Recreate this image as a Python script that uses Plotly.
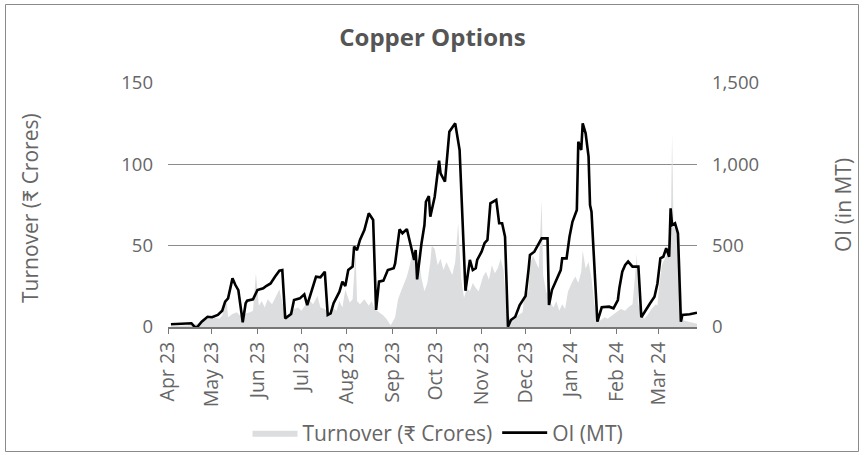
import plotly.graph_objects as go

# ---------------- data ----------------
oi_dates = [
    "2023-04-03", "2023-04-17", "2023-04-19", "2023-04-21", "2023-04-24", "2023-04-28",
    "2023-05-01", "2023-05-05", "2023-05-08", "2023-05-10", "2023-05-12", "2023-05-15",
    "2023-05-17", "2023-05-19", "2023-05-22", "2023-05-24", "2023-05-25", "2023-05-29",
    "2023-06-01", "2023-06-05", "2023-06-07", "2023-06-10", "2023-06-13", "2023-06-16",
    "2023-06-18", "2023-06-20", "2023-06-24", "2023-06-26", "2023-06-30", "2023-07-03",
    "2023-07-05", "2023-07-09", "2023-07-11", "2023-07-14", "2023-07-17", "2023-07-19",
    "2023-07-21", "2023-07-23", "2023-07-27", "2023-07-29", "2023-07-31", "2023-08-02",
    "2023-08-05", "2023-08-06", "2023-08-08", "2023-08-10", "2023-08-13", "2023-08-16",
    "2023-08-19", "2023-08-21", "2023-08-23", "2023-08-26", "2023-08-29", "2023-09-02",
    "2023-09-03", "2023-09-06", "2023-09-08", "2023-09-11", "2023-09-14", "2023-09-16",
    "2023-09-17", "2023-09-18", "2023-09-21", "2023-09-23", "2023-09-24", "2023-09-26",
    "2023-09-27", "2023-09-30", "2023-10-03", "2023-10-04", "2023-10-07", "2023-10-10",
    "2023-10-14", "2023-10-17", "2023-10-21", "2023-10-24", "2023-10-26", "2023-10-28",
    "2023-10-29", "2023-11-01", "2023-11-03", "2023-11-05", "2023-11-07", "2023-11-11",
    "2023-11-13", "2023-11-15", "2023-11-17", "2023-11-19", "2023-11-21", "2023-11-24",
    "2023-11-27", "2023-11-29", "2023-12-01", "2023-12-03", "2023-12-04", "2023-12-07",
    "2023-12-10", "2023-12-12", "2023-12-16", "2023-12-17", "2023-12-19", "2023-12-22",
    "2023-12-25", "2023-12-26", "2023-12-29", "2023-12-31", "2024-01-02", "2024-01-05",
    "2024-01-06", "2024-01-08", "2024-01-09", "2024-01-11", "2024-01-13", "2024-01-14",
    "2024-01-15", "2024-01-19", "2024-01-22", "2024-01-27", "2024-01-30", "2024-02-02",
    "2024-02-03", "2024-02-05", "2024-02-07", "2024-02-09", "2024-02-12", "2024-02-14",
    "2024-02-16", "2024-02-18", "2024-02-21", "2024-02-24", "2024-02-27", "2024-02-29",
    "2024-03-02", "2024-03-04", "2024-03-06", "2024-03-08", "2024-03-09", "2024-03-10",
    "2024-03-12", "2024-03-14", "2024-03-16", "2024-03-17", "2024-03-22", "2024-03-27",
]
oi_values = [
    17, 23, 2, 0, 33, 63,
    60, 74, 100, 156, 176, 299,
    258, 227, 29, 146, 162, 170,
    227, 238, 252, 268, 309, 346,
    350, 53, 80, 166, 176, 201,
    135, 258, 309, 305, 340, 74,
    84, 146, 217, 279, 252, 350,
    371, 494, 473, 535, 596, 699,
    658, 105, 279, 285, 350, 361,
    391, 600, 576, 602, 494, 412,
    473, 293, 515, 627, 770, 805,
    678, 801, 1022, 945, 893, 1201,
    1252, 1088, 223, 412, 350, 361,
    412, 463, 515, 535, 760, 781,
    638, 638, 555, 2, 43, 63,
    135, 166, 191, 350, 443, 463,
    515, 545, 545, 135, 227, 289,
    350, 422, 422, 555, 647, 719,
    1139, 1088, 1252, 1191, 1047, 750,
    709, 33, 121, 125, 115, 166,
    238, 340, 381, 402, 371, 371,
    371, 60, 105, 146, 186, 268,
    422, 432, 484, 432, 730, 627,
    638, 576, 33, 74, 78, 88,
]

turnover_dates = [
    "2023-04-03", "2023-04-16", "2023-04-21", "2023-04-25", "2023-04-28",
    "2023-05-02", "2023-05-06", "2023-05-08", "2023-05-11", "2023-05-12", "2023-05-15",
    "2023-05-18", "2023-05-20", "2023-05-23", "2023-05-27", "2023-05-29", "2023-05-31",
    "2023-06-02", "2023-06-04", "2023-06-06", "2023-06-08", "2023-06-11", "2023-06-14",
    "2023-06-16", "2023-06-18", "2023-06-21", "2023-06-23", "2023-06-26", "2023-06-29",
    "2023-07-01", "2023-07-04", "2023-07-07", "2023-07-09", "2023-07-12", "2023-07-14",
    "2023-07-17", "2023-07-20", "2023-07-22", "2023-07-25", "2023-07-27", "2023-07-29",
    "2023-07-31", "2023-08-03", "2023-08-05", "2023-08-07", "2023-08-08", "2023-08-10",
    "2023-08-13", "2023-08-16", "2023-08-18", "2023-08-20", "2023-08-23", "2023-08-26",
    "2023-08-28", "2023-08-31", "2023-09-03", "2023-09-05", "2023-09-07", "2023-09-09",
    "2023-09-11", "2023-09-13", "2023-09-15", "2023-09-17", "2023-09-19", "2023-09-21",
    "2023-09-23", "2023-09-25", "2023-09-27", "2023-09-28", "2023-09-30", "2023-10-02",
    "2023-10-04", "2023-10-06", "2023-10-08", "2023-10-10", "2023-10-12", "2023-10-14",
    "2023-10-16", "2023-10-18", "2023-10-20", "2023-10-22", "2023-10-24", "2023-10-26",
    "2023-10-28", "2023-10-30", "2023-11-02", "2023-11-04", "2023-11-06", "2023-11-08",
    "2023-11-10", "2023-11-12", "2023-11-14", "2023-11-16", "2023-11-18", "2023-11-20",
    "2023-11-22", "2023-11-24", "2023-11-26", "2023-11-29", "2023-11-30", "2023-12-03",
    "2023-12-04", "2023-12-06", "2023-12-08", "2023-12-10", "2023-12-12", "2023-12-13",
    "2023-12-15", "2023-12-18", "2023-12-20", "2023-12-22", "2023-12-24", "2023-12-26",
    "2023-12-28", "2023-12-30", "2024-01-02", "2024-01-04", "2024-01-06", "2024-01-08",
    "2024-01-09", "2024-01-11", "2024-01-13", "2024-01-15", "2024-01-17", "2024-01-19",
    "2024-01-21", "2024-01-24", "2024-01-26", "2024-01-29", "2024-02-01", "2024-02-04",
    "2024-02-07", "2024-02-09", "2024-02-12", "2024-02-15", "2024-02-16", "2024-02-18",
    "2024-02-20", "2024-02-22", "2024-02-25", "2024-02-28", "2024-02-29", "2024-03-01",
    "2024-03-03", "2024-03-05", "2024-03-07", "2024-03-09", "2024-03-10", "2024-03-11",
    "2024-03-13", "2024-03-15", "2024-03-17", "2024-03-18", "2024-03-22", "2024-03-27",
]
turnover_values = [
    0.5, 1, 2, 4, 5,
    6, 5, 7, 16.6, 6, 8,
    9, 7, 8, 9, 10, 33,
    13, 16, 12, 17, 14, 20,
    23, 15, 6, 9, 11, 12,
    10, 14, 16, 14, 19, 12,
    11, 8, 12, 10, 16, 12,
    23, 15, 17, 47, 16, 14,
    17, 13, 16, 11, 9, 7,
    5, 1, 6, 17, 22, 27,
    31, 38, 47, 39, 42, 30,
    22, 27, 40, 50, 48, 38,
    42, 35, 40, 36, 32, 40,
    64, 30, 18, 24, 22, 27,
    24, 22, 31, 34, 29, 38,
    33, 36, 42, 35, 10, 6,
    4, 6, 7, 9, 18, 22,
    38, 44, 40, 36, 78, 32,
    22, 15, 12, 16, 10, 14,
    11, 22, 28, 31, 27, 34,
    47, 36, 40, 30, 14, 6,
    4, 6, 5, 7, 9, 11,
    10, 12, 14, 45, 14, 10,
    5, 7, 11, 14, 13, 24,
    38, 42, 45, 52, 119, 62,
    58, 55, 8, 4, 3, 2,
]

month_ticks = ["2023-04-01", "2023-05-01", "2023-06-01", "2023-07-01", "2023-08-01",
               "2023-09-01", "2023-10-01", "2023-11-01", "2023-12-01", "2024-01-01",
               "2024-02-01", "2024-03-01"]
month_labels = ["Apr 23", "May 23", "Jun 23", "Jul 23", "Aug 23", "Sep 23",
                "Oct 23", "Nov 23", "Dec 23", "Jan 24", "Feb 24", "Mar 24"]
left_ticks = [0, 50, 100, 150]
right_ticks = [0, 500, 1000, 1500]

# ---------------- layout constants ----------------
W, H = 865, 455
PL, PR, PT, PB = 168, 697, 83, 327          # plot area in pixels
ML, MT = PL, PT
PW, PH = PR - PL, PB - PT
MR, MB = W - ML - PW, H - MT - PH
FONT = "'Open Sans', Lato, sans-serif"
GRAY = "#666666"


def px_x(p):
    return (p - PL) / PW


def px_y(p):
    return (PB - p) / PH


fig = go.Figure()
fig.add_trace(go.Scatter(
    x=turnover_dates, y=turnover_values, name="Turnover (₹ Crores)",
    mode="lines", line=dict(width=0, color="#dcdddf"),
    fill="tozeroy", fillcolor="#dcdddf", yaxis="y",
))
fig.add_trace(go.Scatter(
    x=oi_dates, y=oi_values, name="OI (MT)",
    mode="lines", line=dict(width=2.6, color="#000000"), yaxis="y2",
))

fig.update_layout(
    width=W, height=H,
    margin=dict(l=ML, r=MR, t=MT, b=MB, autoexpand=False),
    paper_bgcolor="white", plot_bgcolor="white",
    font=dict(family=FONT, color=GRAY, size=18),
    title=dict(text="<b>Copper Options</b>", x=0.5, xanchor="center",
               y=1 - 38 / H, yanchor="middle", yref="container",
               font=dict(family=FONT, size=24, color="#555555")),
    showlegend=True,
    legend=dict(orientation="h", x=px_x(438), xanchor="center", y=px_y(433), yanchor="middle",
                font=dict(size=21, color=GRAY), itemwidth=45, bgcolor="rgba(0,0,0,0)"),
    xaxis=dict(type="date", range=["2023-04-01", "2024-03-27"],
               tickvals=month_ticks, ticktext=month_labels, tickangle=-90,
               showline=True, linecolor="#777777", linewidth=2,
               ticks="outside", ticklen=5, tickcolor="#777777", tickwidth=1,
               showgrid=False, zeroline=False, automargin=False,
               tickfont=dict(size=19.5, color=GRAY)),
    yaxis=dict(range=[0, 150], tickvals=left_ticks, showgrid=True, gridcolor="#8c8c8c",
               gridwidth=1, zeroline=False, showline=False, ticks="", automargin=False,
               ticklabelstandoff=14, tickfont=dict(size=18.5, color=GRAY)),
    yaxis2=dict(range=[0, 1500], tickvals=right_ticks, tickformat=",", overlaying="y",
                side="right", showgrid=False, zeroline=False, showline=False, ticks="",
                automargin=False, ticklabelstandoff=14, tickfont=dict(size=18.5, color=GRAY)),
    annotations=[
        dict(text="Turnover (₹ Crores)", x=px_x(30), y=px_y(208), xref="paper", yref="paper",
             textangle=-90, showarrow=False, xanchor="center", yanchor="middle",
             font=dict(size=21, color=GRAY)),
        dict(text="OI (in MT)", x=px_x(843), y=px_y(205), xref="paper", yref="paper",
             textangle=-90, showarrow=False, xanchor="center", yanchor="middle",
             font=dict(size=21, color=GRAY)),
    ],
    shapes=[
        dict(type="rect", xref="paper", yref="paper",
             x0=px_x(5.5), x1=px_x(858.5), y0=px_y(451.5), y1=px_y(4.5),
             line=dict(color="#8a8a8a", width=1), fillcolor="rgba(0,0,0,0)", layer="below"),
    ],
)

fig.write_html(
    "out.html",
    config={"displayModeBar": False},
    post_script="document.body.style.margin='0';document.body.style.padding='0';",
)
